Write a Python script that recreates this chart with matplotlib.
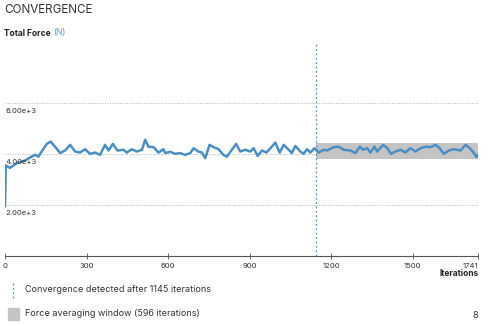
import matplotlib.pyplot as plt
import matplotlib.transforms as mtransforms
from matplotlib.lines import Line2D
from matplotlib.patches import Rectangle

# force history (iteration, total force in N)
iterations = [0, 3, 18, 43, 74, 98, 111, 123, 135, 154, 168, 184, 203, 221, 240,
              258, 276, 295, 313, 332, 350, 368, 381, 397, 414, 436, 448, 467,
              485, 504, 516, 528, 547, 565, 583, 590, 608, 626, 645, 663, 682,
              694, 712, 725, 737, 753, 768, 786, 804, 817, 835, 851, 866, 884,
              903, 915, 930, 946, 962, 977, 995, 1011, 1026, 1044, 1056, 1069,
              1087, 1099, 1112, 1124, 1139, 1155, 1173, 1185, 1210, 1228, 1247,
              1271, 1290, 1306, 1318, 1333, 1345, 1360, 1370, 1392, 1407, 1421,
              1437, 1456, 1474, 1492, 1511, 1529, 1548, 1566, 1585, 1600, 1615,
              1634, 1651, 1677, 1695, 1711, 1726, 1736, 1741]
force = [1950, 3550, 3450, 3630, 3740, 3890, 3960, 3890, 4090, 4390, 4480, 4280,
         4030, 4130, 4350, 4090, 4050, 4180, 4000, 4050, 3960, 4350, 4130, 4390,
         4130, 4160, 4050, 4180, 4090, 4160, 4550, 4280, 4260, 4050, 4180, 4030,
         4080, 4000, 4030, 3960, 4030, 4220, 4090, 4050, 3830, 4350, 4260, 4180,
         3960, 3890, 4160, 4390, 4090, 4160, 4090, 4220, 3920, 4130, 4050, 4220,
         4440, 4050, 4350, 4160, 4030, 4310, 4090, 4000, 4180, 4050, 4220, 4050,
         4160, 4130, 4260, 4280, 4160, 4130, 4030, 4280, 4160, 4220, 4050, 4280,
         4090, 4350, 4220, 4000, 4090, 4160, 4050, 4220, 4090, 4220, 4280, 4260,
         4350, 4220, 4000, 4130, 4180, 4130, 4350, 4220, 4030, 3870, 3950]

converged_at = 1145
last_iter = 1741
window_low = 3780
window_high = 4440

xticks = [0, 300, 600, 900, 1200, 1500, 1741]
yticks = [2000, 4000, 6000]
ytick_labels = ["2.00e+3", "4.00e+3", "6.00e+3"]

plt.rcParams['font.family'] = ['Inter', 'DejaVu Sans']

W, H = 490, 326
fig = plt.figure(figsize=(W / 100, H / 100), dpi=100)
ax = fig.add_axes([5 / W, 1 - 256 / H, 473 / W, 212 / H])

ax.axhspan(window_low, window_high, xmin=converged_at / last_iter, xmax=1,
           color='#c4c4c4', lw=0, zorder=1)
ax.plot(iterations, force, color='#4b8ec4', lw=1.8, zorder=3)
ax.axvline(converged_at, color='#5a8fba', lw=0.9, ls=(0, (1.5, 2)), zorder=2)

for yv in yticks:
    ax.axhline(yv, color='#b5b5b5', lw=0.7, ls=(0, (1, 1.5)), zorder=0)

lab_tr = mtransforms.offset_copy(ax.get_yaxis_transform(), fig=fig, x=0, y=-4, units='points')
for yv, lab in zip(yticks, ytick_labels):
    ax.text(0, yv, lab, transform=lab_tr, fontsize=5.5, color='#333333',
            ha='left', va='top')

ax.set_xlim(0, last_iter)
ax.set_ylim(0, 8300)
ax.set_xticks(xticks)
ax.set_xticklabels([str(t) for t in xticks], fontsize=5.5, color='#333333')
ax.get_xticklabels()[-1].set_horizontalalignment('right')
ax.set_yticks([])
ax.tick_params(axis='x', direction='inout', length=4, width=0.6, color='#555555', pad=3)
for s in ['top', 'left', 'right']:
    ax.spines[s].set_visible(False)
ax.spines['bottom'].set_color('#555555')
ax.spines['bottom'].set_linewidth(0.8)
ax.patch.set_alpha(0)

fig.text(479 / W, 1 - 273 / H, "Iterations", fontsize=6, fontweight='bold',
         color='#222222', ha='right', va='center')

fig.text(4 / W, 1 - 10 / H, "CONVERGENCE", fontsize=8.4, color='#333333', va='center')
t1 = fig.text(4 / W, 1 - 33 / H, "Total Force ", fontsize=6.1, fontweight='bold',
              color='#222222', va='center')
fig.canvas.draw()
bb = t1.get_window_extent()
fig.text(bb.x1 / W, 1 - 33 / H, "(N)", fontsize=6.1, color='#4aa3dc', va='center')

# legend
fig.add_artist(Line2D([13 / W, 13 / W], [1 - 283 / H, 1 - 298 / H], color='#5a8fba',
                      lw=0.9, ls=(0, (1.5, 2)), transform=fig.transFigure))
fig.text(25 / W, 1 - 290 / H, "Convergence detected after %d iterations" % converged_at,
         fontsize=6.5, color='#333333', va='center')
fig.add_artist(Rectangle((8 / W, 1 - 320 / H), 11 / W, 12 / H, color='#c4c4c4',
                         transform=fig.transFigure))
fig.text(25 / W, 1 - 313 / H, "Force averaging window (%d iterations)" % (last_iter - converged_at),
         fontsize=6.5, color='#333333', va='center')
fig.text(478 / W, 1 - 316 / H, "8", fontsize=6.5, color='#333333', ha='right', va='center')

fig.savefig("out.png", dpi=100)
